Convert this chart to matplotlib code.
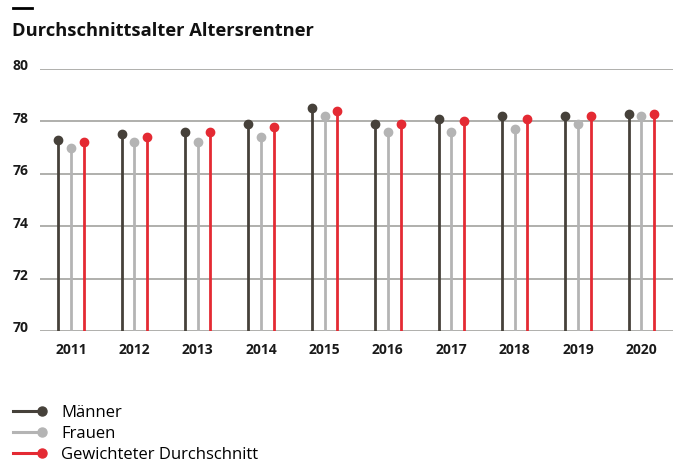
import matplotlib
matplotlib.use("Agg")
import matplotlib.pyplot as plt
import matplotlib.transforms as mtransforms
from matplotlib.legend_handler import HandlerBase
from matplotlib.lines import Line2D

years = [2011, 2012, 2013, 2014, 2015, 2016, 2017, 2018, 2019, 2020]
maenner = [77.3, 77.5, 77.6, 77.9, 78.5, 77.9, 78.1, 78.2, 78.2, 78.3]
frauen = [77.0, 77.2, 77.2, 77.4, 78.2, 77.6, 77.6, 77.7, 77.9, 78.2]
gewichtet = [77.2, 77.4, 77.6, 77.8, 78.4, 77.9, 78.0, 78.1, 78.2, 78.3]
y_ticks = [70, 72, 74, 76, 78, 80]

series = [
    ("Männer", maenner, "#46413a", -0.2),
    ("Frauen", frauen, "#b4b4b4", 0.0),
    ("Gewichteter Durchschnitt", gewichtet, "#e42a33", 0.2),
]

plt.rcParams["font.family"] = ["Open Sans", "DejaVu Sans"]


class EndDot(HandlerBase):
    """legend key: short line ending in a dot"""
    def create_artists(self, legend, orig, xd, yd, w, h, fs, trans):
        y = h / 2 - yd
        x1 = -xd + w - 4
        ln = Line2D([-xd, x1], [y, y], color=orig.get_color(), lw=2.2)
        dot = Line2D([x1], [y], marker="o", ms=6.5, color=orig.get_color(), lw=0)
        ln.set_transform(trans)
        dot.set_transform(trans)
        return [ln, dot]


fig = plt.figure(figsize=(6.82, 4.68), dpi=100)
ax = fig.add_axes([40 / 682, 1 - 331 / 468, 633 / 682, 262 / 468])

xs = list(range(len(years)))
handles = []
for name, vals, col, off in series:
    px = [x + off for x in xs]
    ax.vlines(px, 70, vals, color=col, lw=2.0, zorder=3)
    ax.plot(px, vals, "o", ms=6.0, color=col, zorder=4)
    handles.append(Line2D([], [], color=col, label=name))

ax.set_xlim(-0.49, 9.5)
ax.set_ylim(70, 80)
ax.set_yticks(y_ticks)
ax.set_yticklabels([str(v) for v in y_ticks])
ax.set_xticks(xs)
ax.set_xticklabels([str(y) for y in years])
ax.grid(axis="y", color="#9a9a96", lw=1.1, zorder=1)
ax.set_axisbelow(True)
for s in ax.spines.values():
    s.set_visible(False)
ax.tick_params(axis="both", length=0, labelsize=10, colors="#1a1a1a")
ax.tick_params(axis="y", pad=8)
ax.tick_params(axis="x", pad=9)
for lab in ax.get_yticklabels() + ax.get_xticklabels():
    lab.set_fontweight("bold")
shift = mtransforms.ScaledTranslation(0, 4 / 100, fig.dpi_scale_trans)
for lab in ax.get_yticklabels():
    lab.set_transform(lab.get_transform() + shift)

fig.add_artist(Line2D([13 / 682, 32 / 682], [1 - 8 / 468] * 2, color="black", lw=2))
fig.text(12 / 682, 1 - 31 / 468, "Durchschnittsalter Altersrentner",
         fontsize=13.2, fontweight="bold", va="center", ha="left", color="#111111")

fig.legend(handles=handles, loc="upper left", bbox_to_anchor=(6 / 682, 1 - 398 / 468),
           frameon=False, handler_map={Line2D: EndDot()}, handlelength=2.1,
           handletextpad=0.8, labelspacing=0.3, fontsize=12, borderaxespad=0)

fig.savefig("out.png", dpi=100)
